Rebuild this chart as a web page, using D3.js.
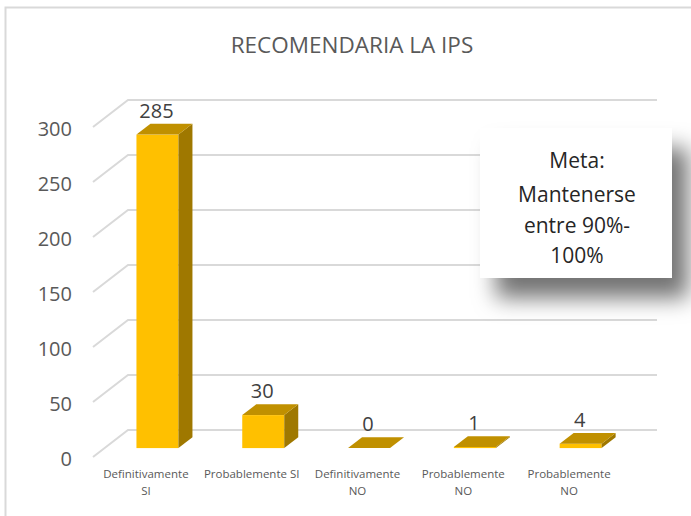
<!DOCTYPE html>
<html>
<head>
<meta charset="utf-8">
<script src="https://cdn.jsdelivr.net/npm/d3@7"></script>
<style>
  body { margin: 0; background: #fff; }
  text { font-family: "Open Sans", sans-serif; }
</style>
</head>
<body>
<svg id="chart" width="691" height="516"></svg>
<script>
// data
const categories = ["Definitivamente SI", "Probablemente SI", "Definitivamente NO", "Probablemente NO", "Probablemente NO"];
const categoryLines = [["Definitivamente", "SI"], ["Probablemente SI"], ["Definitivamente", "NO"], ["Probablemente", "NO"], ["Probablemente", "NO"]];
const values = [285, 30, 0, 1, 4];
const yTicks = [0, 50, 100, 150, 200, 250, 300];
const title = "RECOMENDARIA LA IPS";
const noteLines = ["Meta:", "Mantenerse", "entre 90%-", "100%"];

const svg = d3.select('#chart');

// 3d depth offset of the back wall
const depthX = 35, depthY = -27;
const z0 = 0.33, z1 = 0.73;
const proj = (x, y, z) => [x + z * depthX, y + z * depthY];

const x = d3.scaleBand()
  .domain(d3.range(categories.length))
  .range([93, 622]);
const y = d3.scaleLinear()
  .domain([0, 300])
  .range([457, 127]);

// outer frame
svg.append('rect')
  .attr('x', 5.5).attr('y', 7.5)
  .attr('width', 720).attr('height', 530)
  .attr('fill', 'none')
  .attr('stroke', '#d9d9d9')
  .attr('stroke-width', 2);

// title
svg.append('text')
  .attr('x', 352).attr('y', 53)
  .attr('text-anchor', 'middle')
  .attr('font-size', 22.5)
  .attr('fill', '#595959')
  .text(title);

// gridlines (floor diagonal + back wall)
const grid = svg.append('g');
yTicks.forEach((t) => {
  const a = proj(x.range()[0], y(t), 0);
  const b = proj(x.range()[0], y(t), 1);
  const c = proj(x.range()[1], y(t), 1);
  grid.append('polyline')
    .attr('points', [a, b, c].map((p) => p.join(',')).join(' '))
    .attr('fill', 'none')
    .attr('stroke', '#d9d9d9')
    .attr('stroke-width', 2);
});

// y labels
svg.append('g').selectAll('text')
  .data(yTicks)
  .enter().append('text')
  .attr('x', 72)
  .attr('y', (d) => y(d) + 1)
  .attr('text-anchor', 'end')
  .attr('dominant-baseline', 'central')
  .attr('font-size', 20)
  .attr('fill', '#595959')
  .text((d) => d);

// note box with shadow
const defs = svg.append('defs');
const f = defs.append('filter').attr('id', 'shadow')
  .attr('x', '-30%').attr('y', '-30%').attr('width', '170%').attr('height', '170%');
f.append('feDropShadow')
  .attr('dx', 16).attr('dy', 20)
  .attr('stdDeviation', 11)
  .attr('flood-color', '#000')
  .attr('flood-opacity', 0.55);

svg.append('rect')
  .attr('x', 480).attr('y', 128)
  .attr('width', 192).attr('height', 150)
  .attr('fill', '#fff')
  .attr('filter', 'url(#shadow)');

svg.append('g').selectAll('text')
  .data(noteLines)
  .enter().append('text')
  .attr('x', 577)
  .attr('y', (d, i) => [168, 202, 233, 263][i])
  .attr('text-anchor', 'middle')
  .attr('font-size', 21)
  .attr('fill', '#262626')
  .text((d) => d);

// bars
const barW = 42;
const bars = svg.append('g');
values.forEach((v, i) => {
  const cx = x(i) + x.bandwidth() / 2;
  const xl = cx - barW / 2, xr = cx + barW / 2;
  const yt = y(v), yb = y(0);
  const pts = (arr) => arr.map((p) => p.join(',')).join(' ');
  if (v > 0) {
    const [fx, fy] = proj(xl, yt, z0);
    const [, fb] = proj(xl, yb, z0);
    bars.append('rect')
      .attr('x', fx).attr('y', fy)
      .attr('width', barW).attr('height', fb - fy)
      .attr('fill', '#ffc000');
    bars.append('polygon')
      .attr('points', pts([proj(xr, yt, z0), proj(xr, yb, z0), proj(xr, yb, z1), proj(xr, yt, z1)]))
      .attr('fill', '#9f7800');
  }
  bars.append('polygon')
    .attr('points', pts([proj(xl, yt, z0), proj(xr, yt, z0), proj(xr, yt, z1), proj(xl, yt, z1)]))
    .attr('fill', '#c09000');

  const lp = proj(cx, yt, z1);
  bars.append('text')
    .attr('x', proj(cx, yt, z0)[0] - 1)
    .attr('y', lp[1] - 6)
    .attr('text-anchor', 'middle')
    .attr('font-size', 20)
    .attr('fill', '#404040')
    .text(v);
});

// x labels
const xl = svg.append('g');
categoryLines.forEach((lines, i) => {
  const t = xl.append('text')
    .attr('x', x(i) + x.bandwidth() / 2)
    .attr('y', 478)
    .attr('text-anchor', 'middle')
    .attr('font-size', 11.5)
    .attr('fill', '#595959');
  lines.forEach((ln, j) => {
    t.append('tspan')
      .attr('x', x(i) + x.bandwidth() / 2)
      .attr('dy', j === 0 ? 0 : 17)
      .text(ln);
  });
});
</script>
</body>
</html>
